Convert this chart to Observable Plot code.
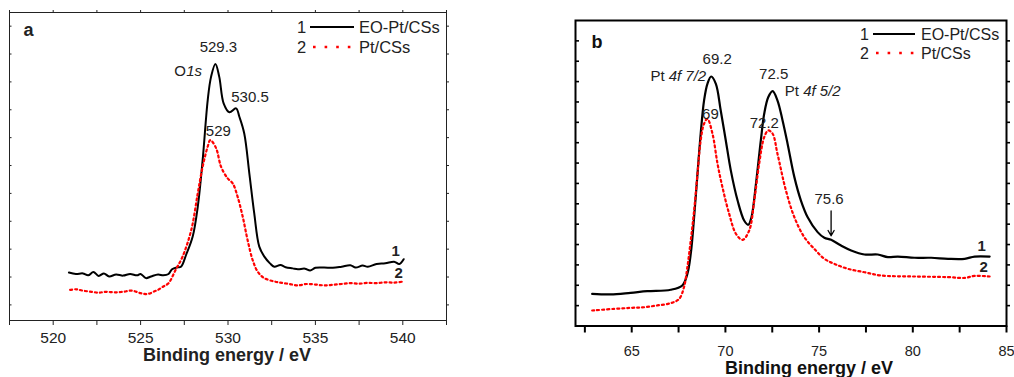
<!DOCTYPE html>
<html><head><meta charset="utf-8">
<script src="https://cdn.jsdelivr.net/npm/d3@7"></script>
<script src="https://cdn.jsdelivr.net/npm/@observablehq/plot@0.6"></script>
<style>
html,body{margin:0;padding:0;background:#fff;}
#wrap{position:relative;width:1014px;height:377px;overflow:hidden;}
#wrap svg{position:absolute;top:0;}
</style></head><body><div id="wrap"></div>
<script>
const FONT = '"Liberation Sans", Arial, Helvetica, sans-serif';

// ---------- Panel a : O 1s ----------
const energyA1 = [520.9,521.3,521.7,522.0,522.3,522.6,522.9,523.2,523.6,524.0,524.4,524.8,525.0,525.3,525.6,526.0,526.3,526.6,526.8,527.1,527.31,527.6,527.98,528.27,528.55,528.84,529.03,529.28,529.5,529.75,530.08,530.46,530.65,530.93,531.22,531.5,531.79,532.08,532.4,532.65,533.0,533.3,533.7,534.0,534.4,534.7,535.0,535.5,536.0,536.5,537.0,537.3,537.7,538.0,538.5,539.0,539.5,539.8,540.05];
const intensityA1 = [1.16,1.11,1.13,1.06,1.18,1.04,1.13,1.02,1.09,1.05,1.11,1.06,1.11,0.96,1.02,1.09,1.06,1.11,1.28,1.35,1.37,1.79,2.45,3.52,5.2,7.35,8.18,8.64,8.18,7.23,6.91,7.05,6.75,6.15,4.72,3.29,2.09,1.73,1.49,1.37,1.43,1.35,1.31,1.28,1.30,1.23,1.33,1.34,1.33,1.37,1.42,1.34,1.41,1.37,1.47,1.49,1.55,1.47,1.64];
const energyA2 = [520.97,521.3,521.7,522.2,522.6,523.0,523.5,524.0,524.5,525.0,525.4,525.8,526.0,526.3,526.6,527.0,527.4,527.9,528.27,528.55,528.84,528.99,529.32,529.6,529.98,530.27,530.55,530.84,531.12,531.41,531.7,532.08,532.65,533.0,533.5,534.0,534.5,535.0,535.5,536.0,536.5,537.0,537.5,538.0,538.5,539.0,539.5,540.05];
const intensityA2 = [0.54,0.56,0.51,0.47,0.44,0.47,0.45,0.47,0.51,0.42,0.39,0.49,0.54,0.66,0.78,1.25,1.73,2.69,4.0,4.96,5.68,5.91,5.62,4.96,4.54,4.36,3.88,3.17,2.33,1.61,1.19,0.96,0.84,0.80,0.75,0.70,0.75,0.73,0.70,0.72,0.75,0.78,0.76,0.79,0.78,0.81,0.80,0.84];
const xTicksA = [520,525,530,535,540];
const xMinorA = [517.5,522.5,527.5,532.5,537.5,542.5];
const yTicksA = [0,1,2,3,4,5,6,7,8,9,10];
const peakEnergiesA = [529.3, 530.5, 529.0];
const peakTextA = ["529.3", "530.5", "529"];

// ---------- Panel b : Pt 4f ----------
const energyB1 = [62.89,63.87,64.94,65.83,67.08,67.70,67.97,68.15,68.33,68.51,68.68,68.86,69.04,69.24,69.49,69.75,70.02,70.29,70.65,71.00,71.22,71.39,71.63,71.89,72.07,72.29,72.52,72.78,73.05,73.32,73.68,74.03,74.39,74.92,75.28,75.64,76.17,76.71,77.42,78.13,78.67,79.20,80.09,80.98,81.88,82.77,83.30,84.10];
const intensityB1 = [1.58,1.55,1.63,1.71,1.78,1.99,2.56,3.54,5.34,7.47,9.44,11.07,11.89,12.25,11.89,10.58,9.11,7.63,6.16,5.18,4.97,5.34,6.98,9.11,10.42,11.24,11.53,11.07,10.09,8.94,7.31,6.16,5.34,4.61,4.33,4.23,3.95,3.71,3.51,3.51,3.38,3.41,3.35,3.35,3.30,3.30,3.41,3.41];
const energyB2 = [62.89,64.05,64.94,65.65,66.37,67.08,67.53,67.79,67.97,68.15,68.33,68.51,68.68,68.86,69.04,69.31,69.58,69.84,70.20,70.56,70.91,71.27,71.54,71.80,72.07,72.29,72.52,72.78,73.23,73.68,74.21,74.74,75.28,75.81,76.53,77.42,78.31,80.09,81.88,82.77,83.30,84.10];
const intensityB2 = [0.76,0.84,0.89,0.92,1.01,1.12,1.33,1.91,2.89,4.20,5.67,7.47,9.11,9.93,10.17,9.44,7.96,6.82,5.51,4.53,4.23,4.69,6.16,7.96,9.27,9.60,9.44,8.45,6.65,5.34,4.36,3.79,3.30,3.05,2.81,2.64,2.48,2.43,2.40,2.36,2.46,2.43];
const xTicksB = [65,70,75,80,85];
const xMinorB = [62.5,67.5,72.5,77.5,82.5];
const yTicksB = [1,2,3,4,5,6,7,8,9,10,11,12,13,14];
const peakEnergiesB = [69.2, 72.5, 69.0, 72.2, 75.6];
const peakTextB = ["69.2", "72.5", "69", "72.2", "75.6"];

const seriesNames = ["EO-Pt/CSs", "Pt/CSs"];
const xLabel = "Binding energy / eV";

// ---------- helpers ----------
const rows = (es, is) => es.map((e, i) => ({E: e, I: is[i]}));
function nearest(es, is, e) {
  let k = 0;
  es.forEach((v, i) => { if (Math.abs(v - e) < Math.abs(es[k] - e)) k = i; });
  return {E: es[k], I: is[k]};
}
function note(pt, text, dx, dy, extra = {}) {
  return Plot.text([pt], {x: "E", y: "I", text: () => text, dx, dy, fontSize: 15,
    fill: "#222", lineAnchor: "middle", ...extra});
}
const last = (es, is) => ({E: es[es.length - 1], I: is[is.length - 1]});
const DOTS = "2 3";

const wrap = document.getElementById("wrap");

// ---------- Plot a ----------
{
  const W = 460, H = 377, mL = 9, mR = 14, mT = 12, mB = 57;
  const fw = W - mL - mR, fh = H - mT - mB;
  const pk1 = nearest(energyA1, intensityA1, peakEnergiesA[0]);
  const pk2 = nearest(energyA1, intensityA1, peakEnergiesA[1]);
  const pk3 = nearest(energyA2, intensityA2, peakEnergiesA[2]);
  const svg = Plot.plot({
    width: W, height: H, marginLeft: mL, marginRight: mR, marginTop: mT, marginBottom: mB,
    x: {domain: [517.5, 542.5]},
    y: {domain: [-0.56, 10.49], axis: null},
    style: {fontFamily: FONT, color: "#222", background: "transparent", overflow: "visible"},
    marks: [
      Plot.frame({stroke: "#222", strokeWidth: 1}),
      Plot.axisX({ticks: xTicksA, tickSize: 5, tickPadding: 6, fontSize: 15.5, label: null, stroke: "#222"}),
      Plot.tickX(xMinorA, {x: d => d, insetTop: fh, insetBottom: -5, stroke: "#222"}),
      Plot.tickX(xMinorA.concat(xTicksA), {x: d => d, insetTop: -2, insetBottom: fh, stroke: "#222"}),
      Plot.tickY(yTicksA, {y: d => d, insetLeft: 0, insetRight: fw - 2.5, stroke: "#222"}),
      Plot.tickY(yTicksA, {y: d => d, insetLeft: fw, insetRight: -3, stroke: "#222"}),
      Plot.line(rows(energyA1, intensityA1), {x: "E", y: "I", stroke: "#000", strokeWidth: 2, curve: "catmull-rom"}),
      Plot.line(rows(energyA2, intensityA2), {x: "E", y: "I", stroke: "#ff0000", strokeWidth: 2.2, strokeDasharray: DOTS, curve: "catmull-rom"}),
      note(pk1, peakTextA[0], 3, -17),
      note(pk1, "1s", -13.4, 7, {textAnchor: "end", fontStyle: "italic"}),
      note(pk1, "O", -29.5, 7, {textAnchor: "end"}),
      note(pk2, peakTextA[1], 14, -11),
      note(pk3, peakTextA[2], 8, -9),
      note(last(energyA1, intensityA1), "1", -8, -8, {fontWeight: "bold"}),
      note(last(energyA2, intensityA2), "2", -5, -8, {fontWeight: "bold"}),
      Plot.text(["a"], {frameAnchor: "top-left", text: d => d, dx: 14, dy: 18, textAnchor: "start", lineAnchor: "middle", fontSize: 18, fontWeight: "bold", fill: "#222"}),
      Plot.text([xLabel], {frameAnchor: "bottom", text: d => d, dx: -1, dy: 35, lineAnchor: "middle", fontSize: 18, fontWeight: "bold", fill: "#222"})
    ]
  });
  svg.style.left = "0px";
  wrap.appendChild(svg);
}

// ---------- Plot b ----------
{
  const W = 554, H = 377, mL = 115, mR = 8, mT = 20, mB = 51.5;
  const fw = W - mL - mR, fh = H - mT - mB;
  const pk1 = nearest(energyB1, intensityB1, peakEnergiesB[0]);
  const pk2 = nearest(energyB1, intensityB1, peakEnergiesB[1]);
  const pk3 = nearest(energyB2, intensityB2, peakEnergiesB[2]);
  const pk4 = nearest(energyB2, intensityB2, peakEnergiesB[3]);
  const sh = nearest(energyB1, intensityB1, peakEnergiesB[4]);
  const svg = Plot.plot({
    width: W, height: H, marginLeft: mL, marginRight: mR, marginTop: mT, marginBottom: mB,
    x: {domain: [62, 85]},
    y: {domain: [0, 15], axis: null},
    style: {fontFamily: FONT, color: "#222", background: "transparent", overflow: "visible"},
    marks: [
      Plot.frame({stroke: "#000", strokeWidth: 2}),
      Plot.axisX({ticks: xTicksB, tickSize: 7, tickPadding: 13, fontSize: 14.5, label: null, stroke: "#000", strokeWidth: 2}),
      Plot.tickX(xMinorB, {x: d => d, insetTop: fh, insetBottom: -7, stroke: "#000", strokeWidth: 2}),
      Plot.tickY(yTicksB, {y: d => d, insetLeft: 0, insetRight: fw - 4, stroke: "#000", strokeWidth: 1.6}),
      Plot.tickY(yTicksB, {y: d => d, insetLeft: fw, insetRight: -4, stroke: "#000", strokeWidth: 1.6}),
      Plot.line(rows(energyB1, intensityB1), {x: "E", y: "I", stroke: "#000", strokeWidth: 2.2, curve: "catmull-rom"}),
      Plot.line(rows(energyB2, intensityB2), {x: "E", y: "I", stroke: "#ff0000", strokeWidth: 2.2, strokeDasharray: DOTS, curve: "catmull-rom"}),
      Plot.arrow([sh], {x1: "E", x2: "E", y1: d => d.I + 1.42, y2: d => d.I + 0.2, stroke: "#000", strokeWidth: 1.3, headLength: 7}),
      note(pk1, peakTextB[0], 6, -17),
      note(pk1, "4f 7/2", -5, 0, {textAnchor: "end", fontStyle: "italic"}),
      note(pk1, "Pt", -46.5, 0, {textAnchor: "end"}),
      note(pk2, peakTextB[1], 1, -17),
      note(pk2, "Pt", 12, 0, {textAnchor: "start"}),
      note(pk2, "4f 5/2", 30.5, 0, {textAnchor: "start", fontStyle: "italic"}),
      note(pk3, peakTextB[2], 3, -5),
      note(pk4, peakTextB[3], -4, -7),
      note(sh, peakTextB[4], -2, -41),
      note(last(energyB1, intensityB1), "1", -8, -10, {fontWeight: "bold"}),
      note(last(energyB2, intensityB2), "2", -6, -9, {fontWeight: "bold"}),
      Plot.text(["b"], {frameAnchor: "top-left", text: d => d, dx: 16, dy: 22, textAnchor: "start", lineAnchor: "middle", fontSize: 18, fontWeight: "bold", fill: "#111"}),
      Plot.text([xLabel], {frameAnchor: "bottom", text: d => d, dx: 18, dy: 42.5, lineAnchor: "middle", fontSize: 18, fontWeight: "bold", fill: "#111"})
    ]
  });
  svg.style.left = "460px";
  wrap.appendChild(svg);
}

// ---------- Legends ----------
function legend(x0, y0, gap, lineLen, textX, fontSize) {
  const s = d3.select(wrap).append("svg")
    .attr("width", 1014).attr("height", 377)
    .style("left", "0px").style("pointer-events", "none")
    .style("font-family", FONT);
  seriesNames.forEach((name, i) => {
    const y = y0 + i * gap;
    s.append("text").attr("x", x0).attr("y", y).attr("dy", "0.35em")
      .attr("font-size", fontSize).attr("fill", "#222").text(String(i + 1));
    s.append("line").attr("x1", i === 0 ? x0 + 13 : x0 + 16).attr("x2", x0 + 13 + lineLen)
      .attr("y1", y).attr("y2", y)
      .attr("stroke", i === 0 ? "#000" : "#ff0000").attr("stroke-width", i === 0 ? 2 : 2.6)
      .attr("stroke-dasharray", i === 0 ? null : "2.6 9");
    s.append("text").attr("x", textX).attr("y", y).attr("dy", "0.35em")
      .attr("font-size", fontSize).attr("fill", "#222").text(name);
  });
}
legend(297, 27, 20, 44, 359, 16.5);
legend(860, 34, 19, 42, 921, 16);
</script></body></html>
